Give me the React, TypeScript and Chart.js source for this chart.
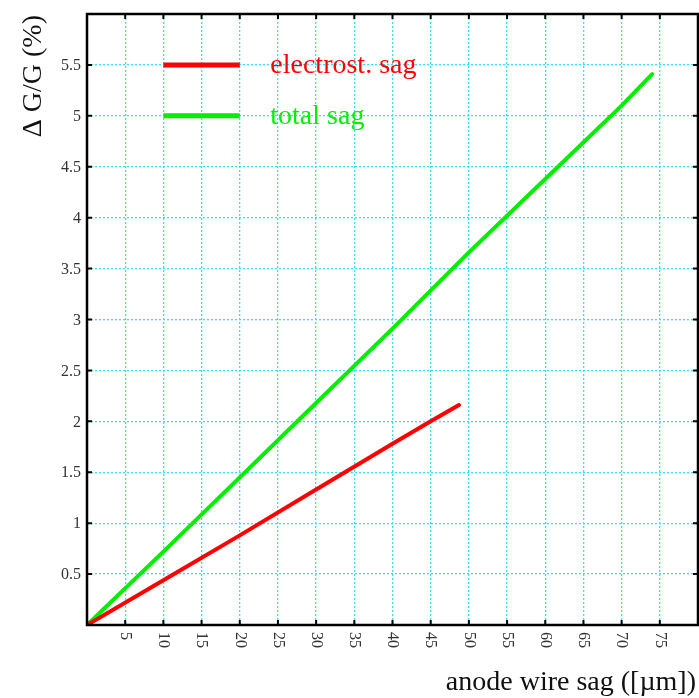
import React, { useEffect, useRef } from "react";
import { Chart, registerables } from "chart.js";

Chart.register(...registerables);

// ---- data ----
const totalSagX = [0, 10, 20, 30, 40, 50, 60, 70, 74];
const totalSagY = [0, 0.72, 1.45, 2.18, 2.91, 3.66, 4.38, 5.1, 5.41];
const electroSagX = [0, 10, 20, 30, 40, 45, 48.7];
const electroSagY = [0, 0.44, 0.88, 1.33, 1.78, 2.0, 2.16];

const xTickValues = [5, 10, 15, 20, 25, 30, 35, 40, 45, 50, 55, 60, 65, 70, 75];
const yTickValues = [0.5, 1, 1.5, 2, 2.5, 3, 3.5, 4, 4.5, 5, 5.5];
const yTickLabels = ["0.5", "1", "1.5", "2", "2.5", "3", "3.5", "4", "4.5", "5", "5.5"];

const seriesNames = ["electrost. sag", "total sag"];
const seriesColors = ["#ff0000", "#00ee00"];
const legendY = [5.5, 5];
const legendXRange = [10, 20];
const legendTextX = 24;

const xTitle = "anode wire sag ([\u00b5m])";
const yTitle = "\u0394 G/G (%)";

const SERIF = "'Liberation Serif', 'DejaVu Serif', serif";

const framePlugin = {
  id: "framePlugin",
  afterDraw(chart: any) {
    const { ctx, chartArea } = chart;
    const xs = chart.scales.x;
    const ys = chart.scales.y;
    const { left, right, top, bottom } = chartArea;
    ctx.save();

    // legend
    for (let i = 0; i < seriesNames.length; i++) {
      const py = ys.getPixelForValue(legendY[i]);
      ctx.strokeStyle = seriesColors[i];
      ctx.lineWidth = 5;
      ctx.beginPath();
      ctx.moveTo(xs.getPixelForValue(legendXRange[0]), py);
      ctx.lineTo(xs.getPixelForValue(legendXRange[1]), py);
      ctx.stroke();
      ctx.fillStyle = seriesColors[i];
      ctx.font = `28px ${SERIF}`;
      ctx.textAlign = "left";
      ctx.textBaseline = "middle";
      ctx.fillText(seriesNames[i], xs.getPixelForValue(legendTextX), py + 1);
    }

    // frame
    ctx.strokeStyle = "#000";
    ctx.lineWidth = 2.5;
    ctx.strokeRect(left, top, right - left, bottom - top);

    // tick marks
    ctx.lineWidth = 2;
    const tl = 5;
    ctx.beginPath();
    for (const v of xTickValues) {
      const px = xs.getPixelForValue(v);
      ctx.moveTo(px, bottom);
      ctx.lineTo(px, bottom - tl);
      ctx.moveTo(px, top);
      ctx.lineTo(px, top + tl);
    }
    for (const v of yTickValues) {
      const py = ys.getPixelForValue(v);
      ctx.moveTo(left, py);
      ctx.lineTo(left + tl, py);
      ctx.moveTo(right, py);
      ctx.lineTo(right - tl, py);
    }
    ctx.stroke();

    // tick labels
    ctx.fillStyle = "#333";
    ctx.font = `16px ${SERIF}`;
    ctx.textAlign = "right";
    ctx.textBaseline = "middle";
    yTickValues.forEach((v, i) => {
      ctx.fillText(yTickLabels[i], left - 6, ys.getPixelForValue(v) + 1);
    });
    for (const v of xTickValues) {
      ctx.save();
      ctx.translate(xs.getPixelForValue(v), bottom + 7);
      ctx.rotate(Math.PI / 2);
      ctx.textAlign = "left";
      ctx.textBaseline = "middle";
      ctx.fillText(String(v), 0, 0);
      ctx.restore();
    }

    // axis titles
    ctx.fillStyle = "#111";
    ctx.font = `28px ${SERIF}`;
    ctx.textAlign = "right";
    ctx.textBaseline = "alphabetic";
    ctx.fillText(xTitle, 696, 690);

    ctx.save();
    ctx.translate(41, 15);
    ctx.rotate(-Math.PI / 2);
    ctx.textAlign = "right";
    ctx.textBaseline = "alphabetic";
    ctx.fillText(yTitle, 0, 0);
    ctx.restore();

    ctx.restore();
  },
};

export default function App() {
  const ref = useRef<HTMLCanvasElement | null>(null);
  useEffect(() => {
    document.body.style.margin = "0";
    if (!ref.current) return;
    const chart = new Chart(ref.current, {
      type: "line",
      data: {
        datasets: [
          {
            label: seriesNames[0],
            data: electroSagX.map((x, i) => ({ x, y: electroSagY[i] })),
            borderColor: seriesColors[0],
            borderWidth: 4,
            pointRadius: 0,
            tension: 0,
            borderCapStyle: "round",
          },
          {
            label: seriesNames[1],
            data: totalSagX.map((x, i) => ({ x, y: totalSagY[i] })),
            borderColor: seriesColors[1],
            borderWidth: 4,
            pointRadius: 0,
            tension: 0,
            borderCapStyle: "round",
          },
        ],
      },
      options: {
        responsive: false,
        animation: false,
        layout: { padding: { left: 87, top: 14, right: 1, bottom: 73 } },
        plugins: { legend: { display: false }, tooltip: { enabled: false } },
        scales: {
          x: {
            type: "linear",
            min: 0,
            max: 80,
            ticks: { display: false, stepSize: 5 },
            grid: { color: "#33e0ff", lineWidth: 1.3, drawTicks: false },
            border: { display: false, dash: [2, 2] },
          },
          y: {
            type: "linear",
            min: 0,
            max: 6,
            ticks: { display: false, stepSize: 0.5 },
            grid: { color: "#33e0ff", lineWidth: 1.3, drawTicks: false },
            border: { display: false, dash: [2, 2] },
          },
        },
      },
      plugins: [framePlugin],
    } as any);
    return () => chart.destroy();
  }, []);
  return (
    <canvas
      ref={ref}
      width={699}
      height={698}
      style={{ display: "block", width: 699, height: 698 }}
    />
  );
}
